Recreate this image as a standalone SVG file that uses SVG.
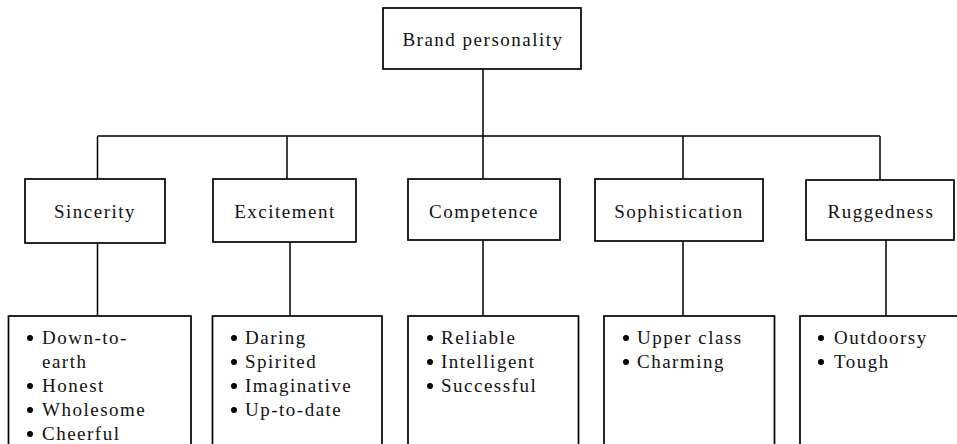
<svg xmlns="http://www.w3.org/2000/svg" width="957" height="444" viewBox="0 0 957 444">
<style>
.box{fill:#fff;stroke:#000;stroke-width:1.7}
.ln{fill:none;stroke:#000;stroke-width:1.5}
.t{font-family:"Liberation Serif","Times New Roman",serif;font-size:19px;letter-spacing:1.5px;fill:#111}
.c{text-anchor:middle}
.b{fill:#000}
</style>
<rect width="957" height="444" fill="#fff"/>
<g id="connectors">
<path class="ln" d="M483 69V136M97.5 136H880M97.5 136V179M287 136V179M483 136V179M683 136V179M880 136V180"/>
<path class="ln" d="M97.5 243V316M290 242V316M483 240V316M683 241V316M886 240V316"/>
</g>
<g id="brand">
<rect class="box" x="383" y="8" width="198" height="61"/>
<text class="t c" x="483" y="46">Brand personality</text>
</g>
<g id="sincerity">
<rect class="box" x="25" y="179" width="140" height="64"/>
<text class="t c" x="95" y="218">Sincerity</text>
</g>
<g id="excitement">
<rect class="box" x="213" y="179" width="143" height="63"/>
<text class="t c" x="285" y="217.5">Excitement</text>
</g>
<g id="competence">
<rect class="box" x="408" y="179" width="152" height="61"/>
<text class="t c" x="484" y="217.5">Competence</text>
</g>
<g id="sophistication">
<rect class="box" x="595" y="179" width="168" height="62"/>
<text class="t c" x="679" y="217.5">Sophistication</text>
</g>
<g id="ruggedness">
<rect class="box" x="806" y="180" width="148" height="60"/>
<text class="t c" x="881" y="217.5">Ruggedness</text>
</g>
<g id="sincerity-traits">
<rect class="box" x="8.5" y="316" width="182.5" height="140"/>
<circle class="b" cx="30" cy="338" r="3"/>
<circle class="b" cx="30" cy="386" r="3"/>
<circle class="b" cx="30" cy="410" r="3"/>
<circle class="b" cx="30" cy="434" r="3"/>
<text class="t" x="42" y="344">Down-to-</text>
<text class="t" x="42" y="368">earth</text>
<text class="t" x="42" y="392">Honest</text>
<text class="t" x="42" y="416">Wholesome</text>
<text class="t" x="42" y="440">Cheerful</text>
</g>
<g id="excitement-traits">
<rect class="box" x="212.5" y="316" width="169.5" height="140"/>
<circle class="b" cx="234" cy="338" r="3"/>
<circle class="b" cx="234" cy="362" r="3"/>
<circle class="b" cx="234" cy="386" r="3"/>
<circle class="b" cx="234" cy="410" r="3"/>
<text class="t" x="245" y="344">Daring</text>
<text class="t" x="245" y="368">Spirited</text>
<text class="t" x="245" y="392">Imaginative</text>
<text class="t" x="245" y="416">Up-to-date</text>
</g>
<g id="competence-traits">
<rect class="box" x="408" y="316" width="170.5" height="140"/>
<circle class="b" cx="430" cy="338" r="3"/>
<circle class="b" cx="430" cy="362" r="3"/>
<circle class="b" cx="430" cy="386" r="3"/>
<text class="t" x="441" y="344">Reliable</text>
<text class="t" x="441" y="368">Intelligent</text>
<text class="t" x="441" y="392">Successful</text>
</g>
<g id="sophistication-traits">
<rect class="box" x="604" y="316" width="170.5" height="140"/>
<circle class="b" cx="626" cy="338" r="3"/>
<circle class="b" cx="626" cy="362" r="3"/>
<text class="t" x="637" y="344">Upper class</text>
<text class="t" x="637" y="368">Charming</text>
</g>
<g id="ruggedness-traits">
<rect class="box" x="800" y="316" width="170" height="140"/>
<circle class="b" cx="821" cy="338" r="3"/>
<circle class="b" cx="821" cy="362" r="3"/>
<text class="t" x="834" y="344">Outdoorsy</text>
<text class="t" x="834" y="368">Tough</text>
</g>
</svg>
